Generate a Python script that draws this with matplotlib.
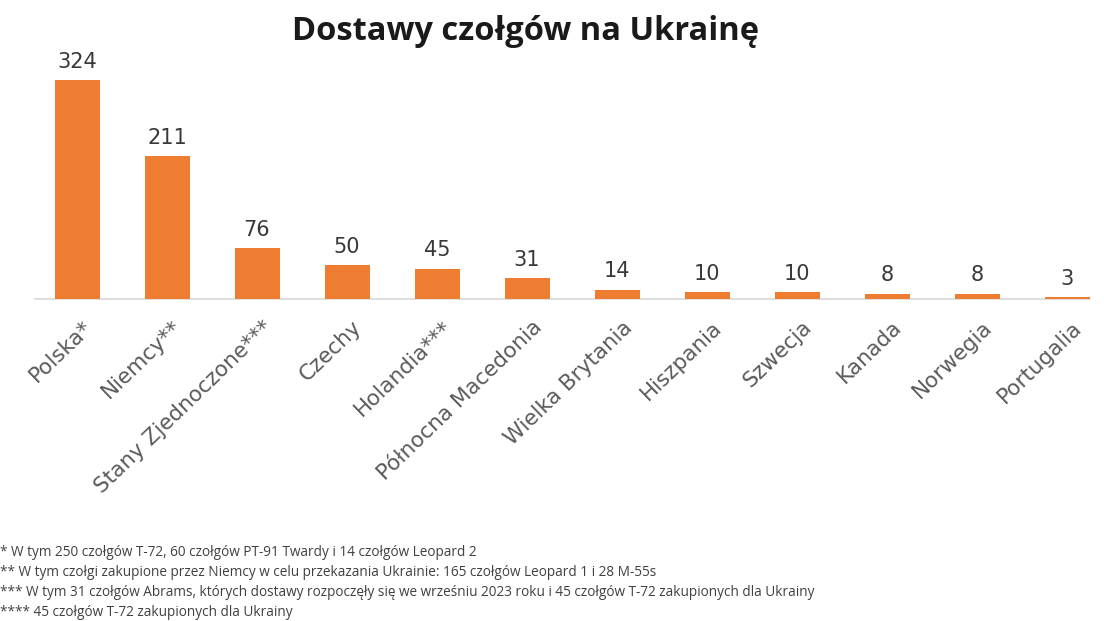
import matplotlib
matplotlib.use("Agg")
import matplotlib.pyplot as plt
import matplotlib.transforms as mtransforms

categories = ["Polska*", "Niemcy**", "Stany Zjednoczone***", "Czechy", "Holandia***",
              "Północna Macedonia", "Wielka Brytania", "Hiszpania", "Szwecja",
              "Kanada", "Norwegia", "Portugalia"]
values = [324, 211, 76, 50, 45, 31, 14, 10, 10, 8, 8, 3]
title = "Dostawy czołgów na Ukrainę"
footnotes = [
    "* W tym 250 czołgów T-72, 60 czołgów PT-91 Twardy i 14 czołgów Leopard 2",
    "** W tym czołgi zakupione przez Niemcy w celu przekazania Ukrainie: 165 czołgów Leopard 1 i 28 M-55s",
    "*** W tym 31 czołgów Abrams, których dostawy rozpoczęły się we wrześniu 2023 roku i 45 czołgów T-72 zakupionych dla Ukrainy",
    "**** 45 czołgów T-72 zakupionych dla Ukrainy",
]

W, H = 1104, 621
fig = plt.figure(figsize=(W/100, H/100), dpi=100)
fig.patch.set_facecolor("white")

base_px = 299
top_px = 40
ax = fig.add_axes([0, (H - base_px)/H, 1, (base_px - top_px)/H])
x = list(range(len(categories)))
ax.bar(x, values, width=0.5, color="#EE7D31", zorder=2)
ax.set_xlim((0 - 77)/90, (W - 77)/90)
ax.set_ylim(0, 324 * (base_px - top_px) / 219)
for xi, v in zip(x, values):
    ax.text(xi, v + 12, str(v), ha="center", va="bottom", fontsize=15,
            color="#383838", family="DejaVu Sans")
ax.plot([(35-77)/90, (1090-77)/90], [0, 0], color="#d9d9d9", lw=1.2, zorder=1,
        clip_on=False)
for s in ax.spines.values():
    s.set_visible(False)
ax.set_yticks([])
ax.set_xticks(x)
ax.set_xticklabels(categories, rotation=44, ha="right", rotation_mode="anchor",
                   fontsize=15.5, color="#5a5a5a", family="DejaVu Sans")
ax.tick_params(axis="x", length=0, pad=13)
offset = mtransforms.ScaledTranslation(5/100, 0, fig.dpi_scale_trans)
for lbl in ax.get_xticklabels():
    lbl.set_transform(lbl.get_transform() + offset)

fig.text(526/W, 1 - 31/H, title, ha="center", va="center", fontsize=23.5,
         fontweight="bold", color="#1a1a1a", family="Open Sans")
ys = [552, 573, 592, 612]
for t, y in zip(footnotes, ys):
    fig.text(0/W, 1 - y/H, t, ha="left", va="center", fontsize=9.8, color="#404040",
             family="Open Sans")

fig.savefig("out.png", dpi=100, facecolor="white")
